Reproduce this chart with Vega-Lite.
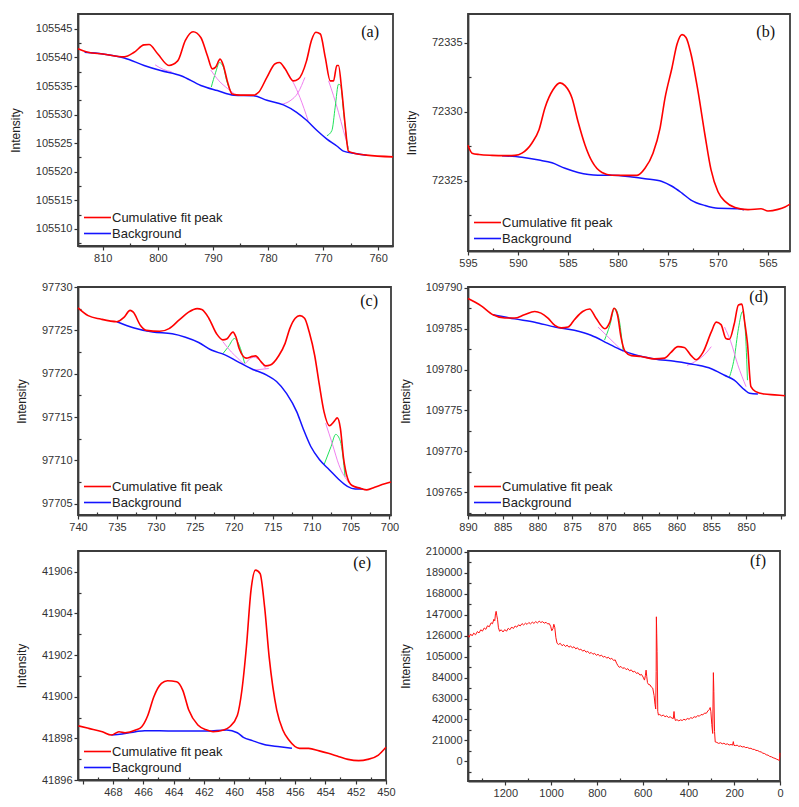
{
  "$schema": "https://vega.github.io/schema/vega-lite/v6.json",
  "background": "white",
  "padding": {"left": 8, "top": 13, "right": 5, "bottom": 5},
  "config": {
    "view": {"stroke": "#3c3c3c", "strokeWidth": 1.8},
    "axis": {"grid": false, "domain": true, "ticks": true, "labelFont": "Liberation Sans", "labelFontSize": 11, "labelColor": "#333", "tickColor": "#333", "tickWidth": 1.2, "domainColor": "#3c3c3c", "domainWidth": 1.8, "titleFont": "Liberation Sans", "titleFontSize": 12, "titleFontWeight": "normal", "titleColor": "#222", "labelPadding": 2, "labelFlush": false, "labelOverlap": false},
    "axisY": {"titlePadding": 13},
    "legend": {"orient": "bottom-left", "offset": 5, "labelFont": "Liberation Sans", "labelFontSize": 13, "labelColor": "#222", "symbolType": "M-1,0H2.6", "symbolSize": 225, "symbolStrokeWidth": 1.6, "labelOffset": 12, "rowPadding": 0, "padding": 0},
    "title": {"frame": "group", "anchor": "end", "font": "Liberation Serif", "fontSize": 16, "fontWeight": "normal", "color": "#111"}
  },
  "datasets": {
    "a_fit": [{"x":814.5,"y":105541.5},{"x":812.7,"y":105540.9},{"x":810,"y":105540.6},{"x":806.1,"y":105540.1},{"x":804.3,"y":105540.9},{"x":802.5,"y":105542.2},{"x":801.6,"y":105542.25},{"x":800,"y":105540.6},{"x":798,"y":105538.6},{"x":796.4,"y":105539.4},{"x":795,"y":105543},{"x":793.6,"y":105544.5},{"x":792.2,"y":105543.5},{"x":791,"y":105540.3},{"x":790.1,"y":105538},{"x":789.5,"y":105538.3},{"x":788.7,"y":105539.7},{"x":788.1,"y":105538.6},{"x":787.4,"y":105535.9},{"x":786.5,"y":105533.6},{"x":785,"y":105533.4},{"x":782.6,"y":105533.4},{"x":781.7,"y":105533.9},{"x":780.2,"y":105536.5},{"x":778.7,"y":105538.9},{"x":777.9,"y":105539.1},{"x":776.9,"y":105538},{"x":775.4,"y":105535.9},{"x":774.5,"y":105536.2},{"x":773,"y":105539.4},{"x":772.1,"y":105543},{"x":771.3,"y":105544.4},{"x":770.5,"y":105544.1},{"x":769.6,"y":105540},{"x":768.7,"y":105535.9},{"x":768.1,"y":105535.9},{"x":767.5,"y":105538.6},{"x":767.2,"y":105538.6},{"x":766.6,"y":105534.2},{"x":766,"y":105528.3},{"x":765.4,"y":105523.6},{"x":764.2,"y":105523.2},{"x":762.1,"y":105522.9},{"x":757.3,"y":105522.6}],
    "a_bg": [{"x":813.3,"y":105540.9},{"x":810,"y":105540.6},{"x":806.1,"y":105539.9},{"x":802.5,"y":105538.6},{"x":799.5,"y":105537.7},{"x":795.8,"y":105536.8},{"x":792.2,"y":105535.1},{"x":789.2,"y":105534.2},{"x":786.2,"y":105533.4},{"x":782.6,"y":105533.3},{"x":780.2,"y":105532.5},{"x":777.2,"y":105531.7},{"x":774.8,"y":105530.4},{"x":773,"y":105529.0},{"x":771.1,"y":105527.2},{"x":769.3,"y":105525.7},{"x":767.5,"y":105524.5},{"x":766.3,"y":105523.6},{"x":764.2,"y":105523.2},{"x":762.1,"y":105522.9}],
    "a_comp": [
      {"x":790.3,"y":105534.8,"g":1,"k":"A"},{"x":789.5,"y":105537.4,"g":1,"k":"A"},{"x":788.8,"y":105539.1,"g":1,"k":"A"},{"x":788.1,"y":105538.3,"g":1,"k":"A"},{"x":787.5,"y":105535.9,"g":1,"k":"A"},{"x":786.8,"y":105534.1,"g":1,"k":"A"},
      {"x":790.4,"y":105537.8,"g":2,"k":"B"},{"x":788.9,"y":105535.9,"g":2,"k":"B"},{"x":787.4,"y":105534.6,"g":2,"k":"B"},{"x":786.2,"y":105533.7,"g":2,"k":"B"},
      {"x":800.5,"y":105538.7,"g":3,"k":"B"},{"x":799,"y":105537.9,"g":3,"k":"B"},{"x":797.5,"y":105537.5,"g":3,"k":"B"},
      {"x":776.3,"y":105537.1,"g":4,"k":"B"},{"x":775.4,"y":105535.6,"g":4,"k":"B"},{"x":774.2,"y":105533.0,"g":4,"k":"B"},{"x":772.7,"y":105528.9,"g":4,"k":"B"},
      {"x":777.5,"y":105531.8,"g":5,"k":"B"},{"x":776,"y":105532.4,"g":5,"k":"B"},{"x":774.5,"y":105533.9,"g":5,"k":"B"},{"x":773.3,"y":105536.5,"g":5,"k":"B"},
      {"x":769,"y":105535.9,"g":6,"k":"B"},{"x":768.1,"y":105533.3,"g":6,"k":"B"},{"x":767.2,"y":105530.4,"g":6,"k":"B"},{"x":766.3,"y":105527.2,"g":6,"k":"B"},{"x":765.4,"y":105524.2,"g":6,"k":"B"},
      {"x":769.3,"y":105526.3,"g":7,"k":"A"},{"x":768.4,"y":105527.2,"g":7,"k":"A"},{"x":767.8,"y":105531.3,"g":7,"k":"A"},{"x":767.2,"y":105535.3,"g":7,"k":"A"},{"x":766.8,"y":105535.1,"g":7,"k":"A"},{"x":766.3,"y":105530.7,"g":7,"k":"A"},{"x":765.7,"y":105525.4,"g":7,"k":"A"},{"x":765.4,"y":105523.9,"g":7,"k":"A"}
    ],
    "b_fit": [{"x":595,"y":72327.57},{"x":594.6,"y":72327.0},{"x":593.9,"y":72326.9},{"x":592.6,"y":72326.84},{"x":591.3,"y":72326.82},{"x":590.3,"y":72326.84},{"x":589.6,"y":72327.0},{"x":588.6,"y":72327.74},{"x":587.9,"y":72328.7},{"x":587.3,"y":72330.3},{"x":586.5,"y":72331.6},{"x":585.8,"y":72332.1},{"x":585.3,"y":72331.9},{"x":584.6,"y":72331.0},{"x":584.0,"y":72329.3},{"x":583.3,"y":72327.6},{"x":582.6,"y":72326.4},{"x":581.6,"y":72325.6},{"x":580.6,"y":72325.4},{"x":579.3,"y":72325.39},{"x":578.1,"y":72325.39},{"x":577.3,"y":72325.9},{"x":576.5,"y":72327.0},{"x":575.8,"y":72328.8},{"x":575.3,"y":72331.0},{"x":574.6,"y":72333.2},{"x":574.1,"y":72334.9},{"x":573.6,"y":72335.6},{"x":573.2,"y":72335.4},{"x":572.7,"y":72334.2},{"x":572.0,"y":72331.5},{"x":571.3,"y":72328.3},{"x":570.7,"y":72325.8},{"x":570.0,"y":72324.2},{"x":569.3,"y":72323.5},{"x":568.3,"y":72323.06},{"x":567.0,"y":72322.9},{"x":565.7,"y":72322.97},{"x":565,"y":72322.8},{"x":564.0,"y":72322.92},{"x":563.3,"y":72323.1},{"x":562.8,"y":72323.3}],
    "b_bg": [{"x":591.6,"y":72326.82},{"x":589.6,"y":72326.7},{"x":587.9,"y":72326.5},{"x":586.6,"y":72326.3},{"x":585.3,"y":72325.9},{"x":584.0,"y":72325.6},{"x":582.0,"y":72325.4},{"x":580.6,"y":72325.4},{"x":578.6,"y":72325.27},{"x":577.3,"y":72325.15},{"x":575.6,"y":72324.95},{"x":574.6,"y":72324.6},{"x":573.6,"y":72324.1},{"x":572.7,"y":72323.6},{"x":571.3,"y":72323.2},{"x":570.0,"y":72323.0},{"x":568.0,"y":72322.97},{"x":567.4,"y":72322.9}],
    "c_fit": [{"x":740,"y":97727.6},{"x":738.7,"y":97726.7},{"x":737.1,"y":97726.3},{"x":735.0,"y":97726.0},{"x":734.1,"y":97726.5},{"x":733.3,"y":97727.3},{"x":732.9,"y":97727.1},{"x":732.0,"y":97725.6},{"x":731.2,"y":97725.0},{"x":729.5,"y":97724.9},{"x":728.3,"y":97725.2},{"x":727.0,"y":97726.2},{"x":725.8,"y":97727.1},{"x":724.7,"y":97727.5},{"x":724.1,"y":97727.4},{"x":723.2,"y":97726.4},{"x":722.2,"y":97724.6},{"x":721.4,"y":97723.9},{"x":720.9,"y":97724.0},{"x":720.1,"y":97724.8},{"x":719.7,"y":97724.2},{"x":719.3,"y":97722.9},{"x":718.4,"y":97721.8},{"x":717.6,"y":97722.0},{"x":717.2,"y":97722.06},{"x":716.5,"y":97721.4},{"x":715.9,"y":97720.9},{"x":715.3,"y":97721.0},{"x":714.2,"y":97722.1},{"x":713.4,"y":97723.5},{"x":712.8,"y":97725.2},{"x":712.1,"y":97726.4},{"x":711.5,"y":97726.7},{"x":710.9,"y":97726.4},{"x":710.3,"y":97724.8},{"x":709.6,"y":97722.1},{"x":709.0,"y":97718.7},{"x":708.4,"y":97715.6},{"x":707.7,"y":97714.0},{"x":707.1,"y":97714.5},{"x":706.7,"y":97714.9},{"x":706.3,"y":97713.7},{"x":705.9,"y":97710.3},{"x":705.4,"y":97708.0},{"x":704.8,"y":97707.1},{"x":703.8,"y":97706.8},{"x":702.9,"y":97706.6},{"x":701.9,"y":97706.9},{"x":700.6,"y":97707.3},{"x":699.8,"y":97707.5}],
    "c_bg": [{"x":735.0,"y":97726.0},{"x":732.9,"y":97725.3},{"x":730.4,"y":97724.8},{"x":727.9,"y":97724.6},{"x":726.2,"y":97724.2},{"x":724.5,"y":97723.6},{"x":722.8,"y":97722.7},{"x":721.2,"y":97722.2},{"x":719.5,"y":97721.4},{"x":717.8,"y":97720.6},{"x":715.7,"y":97719.8},{"x":714.5,"y":97719.1},{"x":713.2,"y":97717.7},{"x":711.9,"y":97715.6},{"x":711.1,"y":97713.7},{"x":710.1,"y":97711.6},{"x":709.0,"y":97710.1},{"x":707.7,"y":97708.9},{"x":706.5,"y":97707.8},{"x":705.4,"y":97707.0},{"x":704.4,"y":97706.7},{"x":703.4,"y":97706.7}],
    "c_comp": [
      {"x":721.4,"y":97722.3,"g":1,"k":"A"},{"x":720.7,"y":97723.1,"g":1,"k":"A"},{"x":719.9,"y":97724.06,"g":1,"k":"A"},{"x":719.3,"y":97723.3,"g":1,"k":"A"},{"x":718.6,"y":97721.2,"g":1,"k":"A"},
      {"x":721.4,"y":97723.7,"g":2,"k":"B"},{"x":720.3,"y":97722.5,"g":2,"k":"B"},{"x":719.5,"y":97721.8,"g":2,"k":"B"},{"x":718.6,"y":97721.0,"g":2,"k":"B"},
      {"x":718.6,"y":97721.1,"g":3,"k":"B"},{"x":717.4,"y":97721.9,"g":3,"k":"B"},{"x":715.9,"y":97720.6,"g":3,"k":"B"},
      {"x":717.6,"y":97720.4,"g":4,"k":"B"},{"x":716.5,"y":97720.5,"g":4,"k":"B"},{"x":715.5,"y":97720.6,"g":4,"k":"B"},
      {"x":708.4,"y":97709.5,"g":5,"k":"A"},{"x":707.5,"y":97711.6,"g":5,"k":"A"},{"x":706.9,"y":97713.0,"g":5,"k":"A"},{"x":706.3,"y":97712.2,"g":5,"k":"A"},{"x":705.7,"y":97708.1,"g":5,"k":"A"},
      {"x":708.2,"y":97714.3,"g":6,"k":"B"},{"x":707.3,"y":97711.8,"g":6,"k":"B"},{"x":706.5,"y":97709.5,"g":6,"k":"B"},{"x":705.2,"y":97707.4,"g":6,"k":"B"}
    ],
    "d_fit": [{"x":890,"y":109788.7},{"x":888.1,"y":109787.8},{"x":886.4,"y":109786.7},{"x":884.7,"y":109786.3},{"x":883.3,"y":109786.3},{"x":881.9,"y":109786.7},{"x":880.4,"y":109787.1},{"x":879.5,"y":109786.9},{"x":878.5,"y":109786.3},{"x":877.5,"y":109785.4},{"x":876.6,"y":109785.1},{"x":875.6,"y":109785.2},{"x":874.7,"y":109786.1},{"x":873.5,"y":109787.1},{"x":872.5,"y":109787.4},{"x":871.6,"y":109786.3},{"x":870.3,"y":109785.0},{"x":869.6,"y":109785.8},{"x":869.0,"y":109787.5},{"x":868.5,"y":109786.7},{"x":868.0,"y":109784.0},{"x":867.4,"y":109782.2},{"x":866.5,"y":109781.7},{"x":865.1,"y":109781.6},{"x":863.2,"y":109781.3},{"x":861.7,"y":109781.4},{"x":860.8,"y":109782.1},{"x":859.8,"y":109782.8},{"x":858.9,"y":109782.7},{"x":857.9,"y":109781.7},{"x":857.2,"y":109781.2},{"x":856.2,"y":109782.1},{"x":855.0,"y":109784.6},{"x":854.3,"y":109785.8},{"x":853.6,"y":109785.5},{"x":852.9,"y":109783.8},{"x":852.4,"y":109783.7},{"x":851.7,"y":109785.6},{"x":851.1,"y":109787.9},{"x":850.6,"y":109788.0},{"x":850.2,"y":109785.8},{"x":849.8,"y":109783.2},{"x":849.3,"y":109777.9},{"x":848.6,"y":109777.3},{"x":847.4,"y":109777.0},{"x":845.9,"y":109776.9},{"x":844.4,"y":109776.8}],
    "d_bg": [{"x":886.4,"y":109786.7},{"x":883.3,"y":109786.2},{"x":880.4,"y":109785.8},{"x":877.5,"y":109785.2},{"x":874.7,"y":109784.8},{"x":872.3,"y":109784.2},{"x":869.9,"y":109783.2},{"x":868.0,"y":109782.4},{"x":866.0,"y":109781.8},{"x":863.2,"y":109781.3},{"x":860.3,"y":109781.0},{"x":857.4,"y":109780.6},{"x":855.0,"y":109780.1},{"x":853.1,"y":109779.3},{"x":851.7,"y":109778.7},{"x":850.2,"y":109777.5},{"x":849.5,"y":109777.1},{"x":848.3,"y":109777.0}],
    "d_comp": [
      {"x":870.36,"y":109783.6,"g":1,"k":"A"},{"x":869.6,"y":109785.4,"g":1,"k":"A"},{"x":868.9,"y":109787.5,"g":1,"k":"A"},{"x":868.3,"y":109786.3,"g":1,"k":"A"},{"x":867.7,"y":109782.4,"g":1,"k":"A"},
      {"x":871.3,"y":109785.2,"g":2,"k":"B"},{"x":870.1,"y":109784.2,"g":2,"k":"B"},{"x":868.9,"y":109783.2,"g":2,"k":"B"},{"x":867.7,"y":109782.2,"g":2,"k":"B"},
      {"x":858.5,"y":109780.5,"g":3,"k":"B"},{"x":856.9,"y":109781.2,"g":3,"k":"B"},{"x":856.0,"y":109781.8,"g":3,"k":"B"},{"x":855.0,"y":109782.8,"g":3,"k":"B"},
      {"x":852.4,"y":109779.05,"g":4,"k":"A"},{"x":851.7,"y":109781.4,"g":4,"k":"A"},{"x":851.1,"y":109785.0,"g":4,"k":"A"},{"x":850.5,"y":109787.1,"g":4,"k":"A"},{"x":850.1,"y":109784.6,"g":4,"k":"A"},{"x":849.8,"y":109778.7,"g":4,"k":"A"},
      {"x":853.1,"y":109785.2,"g":5,"k":"B"},{"x":852.2,"y":109783.4,"g":5,"k":"B"},{"x":851.2,"y":109780.6,"g":5,"k":"B"},{"x":850.0,"y":109777.9,"g":5,"k":"B"}
    ],
    "e_fit": [{"x":470.27,"y":41898.6},{"x":469.6,"y":41898.48},{"x":468.7,"y":41898.32},{"x":468.1,"y":41898.16},{"x":467.6,"y":41898.32},{"x":467.2,"y":41898.27},{"x":466.5,"y":41898.4},{"x":466.1,"y":41898.56},{"x":465.7,"y":41899.1},{"x":465.3,"y":41900.0},{"x":464.8,"y":41900.64},{"x":464.4,"y":41900.77},{"x":463.8,"y":41900.72},{"x":463.4,"y":41900.32},{"x":463.0,"y":41899.36},{"x":462.4,"y":41898.64},{"x":461.8,"y":41898.4},{"x":461.4,"y":41898.32},{"x":460.7,"y":41898.4},{"x":460.3,"y":41898.56},{"x":459.8,"y":41899.1},{"x":459.5,"y":41900.3},{"x":459.2,"y":41902.4},{"x":458.9,"y":41905.1},{"x":458.6,"y":41906.08},{"x":458.3,"y":41905.92},{"x":458.0,"y":41904.3},{"x":457.7,"y":41901.9},{"x":457.2,"y":41899.36},{"x":456.8,"y":41898.4},{"x":456.4,"y":41897.92},{"x":455.7,"y":41897.52},{"x":455.1,"y":41897.52},{"x":454.4,"y":41897.4},{"x":453.8,"y":41897.28},{"x":453.1,"y":41897.12},{"x":452.5,"y":41896.99},{"x":451.8,"y":41896.93},{"x":451.2,"y":41896.99},{"x":450.5,"y":41897.2},{"x":450,"y":41897.57}],
    "e_bg": [{"x":468.1,"y":41898.16},{"x":467.4,"y":41898.21},{"x":466.5,"y":41898.32},{"x":465.9,"y":41898.37},{"x":463.95,"y":41898.35},{"x":461.8,"y":41898.35},{"x":460.5,"y":41898.4},{"x":459.8,"y":41898.27},{"x":459.4,"y":41898.05},{"x":458.8,"y":41897.89},{"x":457.9,"y":41897.68},{"x":457.0,"y":41897.6},{"x":456.2,"y":41897.52}],
    "f_survey": [{"x":1363,"y":126400},{"x":1358,"y":124500},{"x":1352,"y":127800},{"x":1345,"y":125900},{"x":1338,"y":128600},{"x":1330,"y":127000},{"x":1322,"y":130200},{"x":1315,"y":128800},{"x":1307,"y":132000},{"x":1300,"y":130600},{"x":1292,"y":133800},{"x":1285,"y":132400},{"x":1278,"y":136000},{"x":1270,"y":135000},{"x":1262,"y":139000},{"x":1256,"y":138000},{"x":1250,"y":142500},{"x":1246,"y":141000},{"x":1243,"y":148000},{"x":1240,"y":150500},{"x":1237,"y":146000},{"x":1234,"y":142500},{"x":1230,"y":134000},{"x":1225,"y":130500},{"x":1218,"y":132000},{"x":1210,"y":129800},{"x":1202,"y":132200},{"x":1195,"y":130500},{"x":1187,"y":133500},{"x":1180,"y":132000},{"x":1172,"y":134800},{"x":1165,"y":133200},{"x":1157,"y":135800},{"x":1150,"y":134600},{"x":1142,"y":137000},{"x":1135,"y":135800},{"x":1127,"y":138200},{"x":1120,"y":136800},{"x":1112,"y":138600},{"x":1105,"y":137400},{"x":1097,"y":139300},{"x":1090,"y":137900},{"x":1082,"y":139600},{"x":1075,"y":138400},{"x":1067,"y":140200},{"x":1060,"y":138800},{"x":1052,"y":140600},{"x":1045,"y":139300},{"x":1037,"y":140100},{"x":1030,"y":138600},{"x":1022,"y":139500},{"x":1015,"y":137800},{"x":1008,"y":138200},{"x":1002,"y":135500},{"x":997,"y":131000},{"x":992,"y":133000},{"x":988,"y":137500},{"x":984,"y":134500},{"x":979,"y":124000},{"x":974,"y":118500},{"x":968,"y":117200},{"x":960,"y":118400},{"x":952,"y":116000},{"x":945,"y":117200},{"x":937,"y":115200},{"x":930,"y":116600},{"x":922,"y":114500},{"x":915,"y":115800},{"x":907,"y":113800},{"x":900,"y":115000},{"x":892,"y":112800},{"x":885,"y":114000},{"x":877,"y":111800},{"x":870,"y":112600},{"x":862,"y":110500},{"x":855,"y":111600},{"x":847,"y":109500},{"x":840,"y":110400},{"x":832,"y":108200},{"x":825,"y":109300},{"x":817,"y":107400},{"x":810,"y":108400},{"x":802,"y":106300},{"x":795,"y":107400},{"x":787,"y":105600},{"x":780,"y":106600},{"x":772,"y":104500},{"x":765,"y":105400},{"x":757,"y":103500},{"x":750,"y":104500},{"x":742,"y":102500},{"x":735,"y":103400},{"x":727,"y":101200},{"x":720,"y":101800},{"x":714,"y":98500},{"x":708,"y":96000},{"x":702,"y":94300},{"x":695,"y":95200},{"x":687,"y":93200},{"x":680,"y":94000},{"x":672,"y":92000},{"x":665,"y":93000},{"x":657,"y":90800},{"x":650,"y":91800},{"x":642,"y":89600},{"x":635,"y":90400},{"x":627,"y":88200},{"x":620,"y":88900},{"x":612,"y":86500},{"x":605,"y":87200},{"x":598,"y":84500},{"x":592,"y":81500},{"x":588,"y":86000},{"x":585,"y":91500},{"x":582,"y":85000},{"x":579,"y":79000},{"x":574,"y":77000},{"x":568,"y":76800},{"x":562,"y":74500},{"x":556,"y":73500},{"x":550,"y":66000},{"x":546,"y":57000},{"x":543,"y":52500},{"x":541,"y":90000},{"x":540,"y":145000},{"x":538.5,"y":128000},{"x":537,"y":110000},{"x":534,"y":50000},{"x":531,"y":46500},{"x":525,"y":47000},{"x":518,"y":45600},{"x":510,"y":46400},{"x":502,"y":44800},{"x":495,"y":45600},{"x":487,"y":44000},{"x":480,"y":44800},{"x":472,"y":43400},{"x":466,"y":43000},{"x":463,"y":50000},{"x":461,"y":44500},{"x":457,"y":41000},{"x":450,"y":41800},{"x":442,"y":40600},{"x":435,"y":41600},{"x":427,"y":41000},{"x":420,"y":42200},{"x":412,"y":41500},{"x":405,"y":43000},{"x":397,"y":42300},{"x":390,"y":43800},{"x":382,"y":43200},{"x":375,"y":44800},{"x":367,"y":44200},{"x":360,"y":45800},{"x":352,"y":45300},{"x":345,"y":47000},{"x":337,"y":46600},{"x":330,"y":48400},{"x":322,"y":48200},{"x":315,"y":50600},{"x":309,"y":52000},{"x":305,"y":54000},{"x":302,"y":50000},{"x":298,"y":37000},{"x":294,"y":28000},{"x":291,"y":89000},{"x":289,"y":70000},{"x":286,"y":30000},{"x":283,"y":19500},{"x":276,"y":19000},{"x":268,"y":18000},{"x":260,"y":18700},{"x":252,"y":17600},{"x":245,"y":18200},{"x":237,"y":17000},{"x":230,"y":17600},{"x":222,"y":16400},{"x":214,"y":16900},{"x":207,"y":16300},{"x":204,"y":19800},{"x":201,"y":16000},{"x":195,"y":15800},{"x":187,"y":16200},{"x":180,"y":15000},{"x":172,"y":15500},{"x":165,"y":14400},{"x":157,"y":14800},{"x":150,"y":13800},{"x":142,"y":14000},{"x":135,"y":13000},{"x":127,"y":13100},{"x":120,"y":12100},{"x":112,"y":12000},{"x":105,"y":11000},{"x":97,"y":10800},{"x":90,"y":9800},{"x":82,"y":9400},{"x":75,"y":8200},{"x":67,"y":7800},{"x":60,"y":6600},{"x":52,"y":6200},{"x":45,"y":5000},{"x":37,"y":4500},{"x":30,"y":3600},{"x":22,"y":3000},{"x":15,"y":2200},{"x":8,"y":1500},{"x":3,"y":900},{"x":1,"y":5000},{"x":0,"y":8500}]
  },
  "columns": 2,
  "bounds": "flush",
  "align": "each",
  "spacing": {"row": 36, "column": 75},
  "resolve": {"scale": {"color": "independent"}, "legend": {"color": "independent"}},
  "concat": [
    {
      "width": 315, "height": 232,
      "title": {"text": "(a)", "dx": -14, "offset": -26},
      "encoding": {
        "x": {"field": "x", "type": "quantitative", "scale": {"domain": [757.3, 814.5], "reverse": true, "nice": false, "zero": false},
          "axis": {"title": null, "format": "d", "values": [760,765,770,775,780,785,790,795,800,805,810], "labelExpr": "datum.value % 10 === 0 ? datum.label : ''", "tickSize": {"condition": {"test": "datum.value % 10 === 0", "value": 4}, "value": -3}}},
        "y": {"field": "y", "type": "quantitative", "scale": {"domain": [105507, 105547.6], "nice": false, "zero": false},
          "axis": {"title": "Intensity", "format": "d", "values": [105507.5,105510,105512.5,105515,105517.5,105520,105522.5,105525,105527.5,105530,105532.5,105535,105537.5,105540,105542.5,105545], "labelExpr": "datum.value % 5 === 0 ? datum.label : ''", "tickSize": {"condition": {"test": "datum.value % 5 === 0", "value": 4}, "value": -3}}}
      },
      "layer": [
        {"data": {"name": "a_comp"}, "mark": {"type": "line", "interpolate": "monotone", "strokeWidth": 1}, "encoding": {"detail": {"field": "g"}, "stroke": {"field": "k", "type": "nominal", "scale": {"domain": ["A", "B"], "range": ["#1fe35a", "#f080f0"]}, "legend": null}}},
        {"data": {"name": "a_bg"}, "mark": {"type": "line", "interpolate": "monotone", "strokeWidth": 1.5}, "encoding": {"color": {"datum": "Background", "type": "nominal", "scale": {"domain": ["Cumulative fit peak", "Background"], "range": ["#ff0000", "#1414ff"]}, "legend": {}}}},
        {"data": {"name": "a_fit"}, "mark": {"type": "line", "interpolate": "monotone", "strokeWidth": 1.6}, "encoding": {"color": {"datum": "Cumulative fit peak", "type": "nominal"}}}
      ]
    },
    {
      "width": 322, "height": 237,
      "title": {"text": "(b)", "dx": -15, "offset": -26},
      "encoding": {
        "x": {"field": "x", "type": "quantitative", "scale": {"domain": [562.8, 595], "reverse": true, "nice": false, "zero": false},
          "axis": {"title": null, "format": "d", "values": [565,567.5,570,572.5,575,577.5,580,582.5,585,587.5,590,592.5,595], "labelExpr": "datum.value % 5 === 0 ? datum.label : ''", "tickSize": {"condition": {"test": "datum.value % 5 === 0", "value": 4}, "value": -3}}},
        "y": {"field": "y", "type": "quantitative", "scale": {"domain": [72319.9, 72337.1], "nice": false, "zero": false},
          "axis": {"title": "Intensity", "format": "d", "values": [72322.5,72325,72327.5,72330,72332.5,72335], "labelExpr": "datum.value % 5 === 0 ? datum.label : ''", "tickSize": {"condition": {"test": "datum.value % 5 === 0", "value": 4}, "value": -3}}}
      },
      "layer": [
        {"data": {"name": "b_bg"}, "mark": {"type": "line", "interpolate": "monotone", "strokeWidth": 1.5}, "encoding": {"color": {"datum": "Background", "type": "nominal", "scale": {"domain": ["Cumulative fit peak", "Background"], "range": ["#ff0000", "#1414ff"]}, "legend": {}}}},
        {"data": {"name": "b_fit"}, "mark": {"type": "line", "interpolate": "monotone", "strokeWidth": 1.6}, "encoding": {"color": {"datum": "Cumulative fit peak", "type": "nominal"}}}
      ]
    },
    {
      "width": 313, "height": 228,
      "title": {"text": "(c)", "dx": -13, "offset": -28},
      "encoding": {
        "x": {"field": "x", "type": "quantitative", "scale": {"domain": [699.8, 740], "reverse": true, "nice": false, "zero": false},
          "axis": {"title": null, "format": "d", "values": [700,702.5,705,707.5,710,712.5,715,717.5,720,722.5,725,727.5,730,732.5,735,737.5,740], "labelExpr": "datum.value % 5 === 0 ? datum.label : ''", "tickSize": {"condition": {"test": "datum.value % 5 === 0", "value": 4}, "value": -3}}},
        "y": {"field": "y", "type": "quantitative", "scale": {"domain": [97703.7, 97730], "nice": false, "zero": false},
          "axis": {"title": "Intensity", "format": "d", "values": [97705,97707.5,97710,97712.5,97715,97717.5,97720,97722.5,97725,97727.5,97730], "labelExpr": "datum.value % 5 === 0 ? datum.label : ''", "tickSize": {"condition": {"test": "datum.value % 5 === 0", "value": 4}, "value": -3}}}
      },
      "layer": [
        {"data": {"name": "c_comp"}, "mark": {"type": "line", "interpolate": "monotone", "strokeWidth": 1}, "encoding": {"detail": {"field": "g"}, "stroke": {"field": "k", "type": "nominal", "scale": {"domain": ["A", "B"], "range": ["#1fe35a", "#f080f0"]}, "legend": null}}},
        {"data": {"name": "c_bg"}, "mark": {"type": "line", "interpolate": "monotone", "strokeWidth": 1.5}, "encoding": {"color": {"datum": "Background", "type": "nominal", "scale": {"domain": ["Cumulative fit peak", "Background"], "range": ["#ff0000", "#1414ff"]}, "legend": {}}}},
        {"data": {"name": "c_fit"}, "mark": {"type": "line", "interpolate": "monotone", "strokeWidth": 1.6}, "encoding": {"color": {"datum": "Cumulative fit peak", "type": "nominal"}}}
      ]
    },
    {
      "width": 317, "height": 228,
      "title": {"text": "(d)", "dx": -17, "offset": -23},
      "encoding": {
        "x": {"field": "x", "type": "quantitative", "scale": {"domain": [844.4, 890], "reverse": true, "nice": false, "zero": false},
          "axis": {"title": null, "format": "d", "values": [845,847.5,850,852.5,855,857.5,860,862.5,865,867.5,870,872.5,875,877.5,880,882.5,885,887.5,890], "labelExpr": "datum.value % 5 === 0 && datum.value > 846 ? datum.label : ''", "tickSize": {"condition": {"test": "datum.value % 5 === 0", "value": 4}, "value": -3}}},
        "y": {"field": "y", "type": "quantitative", "scale": {"domain": [109762.2, 109790.1], "nice": false, "zero": false},
          "axis": {"title": "Intensity", "format": "d", "values": [109762.5,109765,109767.5,109770,109772.5,109775,109777.5,109780,109782.5,109785,109787.5,109790], "labelExpr": "datum.value % 5 === 0 ? datum.label : ''", "tickSize": {"condition": {"test": "datum.value % 5 === 0", "value": 4}, "value": -3}}}
      },
      "layer": [
        {"data": {"name": "d_comp"}, "mark": {"type": "line", "interpolate": "monotone", "strokeWidth": 1}, "encoding": {"detail": {"field": "g"}, "stroke": {"field": "k", "type": "nominal", "scale": {"domain": ["A", "B"], "range": ["#1fe35a", "#f080f0"]}, "legend": null}}},
        {"data": {"name": "d_bg"}, "mark": {"type": "line", "interpolate": "monotone", "strokeWidth": 1.5}, "encoding": {"color": {"datum": "Background", "type": "nominal", "scale": {"domain": ["Cumulative fit peak", "Background"], "range": ["#ff0000", "#1414ff"]}, "legend": {}}}},
        {"data": {"name": "d_fit"}, "mark": {"type": "line", "interpolate": "monotone", "strokeWidth": 1.6}, "encoding": {"color": {"datum": "Cumulative fit peak", "type": "nominal"}}}
      ]
    },
    {
      "width": 308, "height": 229,
      "title": {"text": "(e)", "dx": -15, "offset": -20},
      "encoding": {
        "x": {"field": "x", "type": "quantitative", "scale": {"domain": [450, 470.3], "reverse": true, "nice": false, "zero": false},
          "axis": {"title": null, "format": "d", "values": [450,451,452,453,454,455,456,457,458,459,460,461,462,463,464,465,466,467,468,469,470], "labelExpr": "datum.value % 2 === 0 && datum.value < 469 ? datum.label : ''", "tickSize": {"condition": {"test": "datum.value % 2 === 0", "value": 4}, "value": -3}}},
        "y": {"field": "y", "type": "quantitative", "scale": {"domain": [41896, 41907], "nice": false, "zero": false},
          "axis": {"title": "Intensity", "format": "d", "values": [41896,41897,41898,41899,41900,41901,41902,41903,41904,41905,41906], "labelExpr": "datum.value % 2 === 0 ? datum.label : ''", "tickSize": {"condition": {"test": "datum.value % 2 === 0", "value": 4}, "value": -3}}}
      },
      "layer": [
        {"data": {"name": "e_bg"}, "mark": {"type": "line", "interpolate": "monotone", "strokeWidth": 1.5}, "encoding": {"color": {"datum": "Background", "type": "nominal", "scale": {"domain": ["Cumulative fit peak", "Background"], "range": ["#ff0000", "#1414ff"]}, "legend": {}}}},
        {"data": {"name": "e_fit"}, "mark": {"type": "line", "interpolate": "monotone", "strokeWidth": 1.6}, "encoding": {"color": {"datum": "Cumulative fit peak", "type": "nominal"}}}
      ]
    },
    {
      "width": 312, "height": 230,
      "title": {"text": "(f)", "dx": -14, "offset": -23},
      "data": {"name": "f_survey"},
      "mark": {"type": "line", "strokeWidth": 1, "color": "#ff1010"},
      "encoding": {
        "x": {"field": "x", "type": "quantitative", "scale": {"domain": [0, 1363], "reverse": true, "nice": false, "zero": false},
          "axis": {"title": null, "format": "d", "values": [0,100,200,300,400,500,600,700,800,900,1000,1100,1200,1300], "labelExpr": "datum.value % 200 === 0 ? datum.label : ''", "tickSize": {"condition": {"test": "datum.value % 200 === 0", "value": 4}, "value": -3}}},
        "y": {"field": "y", "type": "quantitative", "scale": {"domain": [-19700, 211000], "nice": false, "zero": false},
          "axis": {"title": "Intensity", "format": "d", "values": [-10500,0,10500,21000,31500,42000,52500,63000,73500,84000,94500,105000,115500,126000,136500,147000,157500,168000,178500,189000,199500,210000], "labelExpr": "datum.value % 21000 === 0 ? datum.label : ''", "tickSize": {"condition": {"test": "datum.value % 21000 === 0", "value": 4}, "value": -3}}}
      }
    }
  ]
}
